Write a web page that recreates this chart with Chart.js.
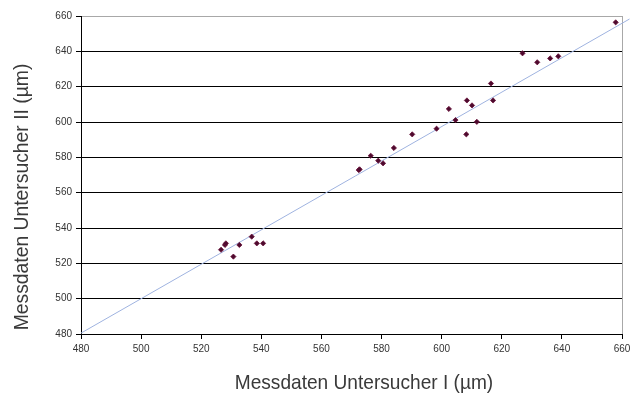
<!DOCTYPE html>
<html>
<head>
<meta charset="utf-8">
<script src="https://cdn.jsdelivr.net/npm/chart.js@4/dist/chart.umd.min.js"></script>
<style>
  html, body { margin: 0; padding: 0; background: #fff; }
  #wrap { width: 641px; height: 401px; position: relative; }
</style>
</head>
<body>
<div id="wrap"><canvas id="c" width="641" height="401"></canvas></div>
<script>
// Data
const xValues = [657.9, 626.9, 631.8, 636.1, 638.8, 572.4, 572.7, 576.4, 578.9, 580.5, 584.1, 590.2, 598.3, 604.6, 608.2, 611.7, 602.4, 608.4, 610.1, 616.4, 617.1, 526.6, 527.9, 528.2, 530.7, 532.7, 536.8, 538.5, 540.6];
const yValues = [656.4, 638.9, 633.8, 636.0, 637.2, 572.8, 573.2, 580.9, 578.1, 576.6, 585.3, 593.0, 596.2, 601.1, 593.0, 600.1, 607.4, 612.2, 609.4, 621.8, 612.2, 527.7, 530.4, 531.3, 523.8, 530.4, 535.1, 531.3, 531.3];
const trendX = [480, 662.5];
const trendY = [480.5, 658.3];
const tickValues = [480, 500, 520, 540, 560, 580, 600, 620, 640, 660];
const xTitle = 'Messdaten Untersucher I (µm)';
const yTitle = 'Messdaten Untersucher II (µm)';

const FONT = "'Liberation Sans', Arial, sans-serif";

const points = xValues.map((x, i) => ({ x: x, y: yValues[i] }));
const trend = trendX.map((x, i) => ({ x: x, y: trendY[i] }));

const titlePlugin = {
  id: 'axisTitles',
  afterDraw(chart) {
    const ctx = chart.ctx;
    ctx.save();
    ctx.fillStyle = '#3a3a3a';
    ctx.font = '21px ' + FONT;
    ctx.textAlign = 'center';
    ctx.textBaseline = 'middle';
    ctx.save();
    ctx.translate(364, 383);
    ctx.scale(0.91, 1);
    ctx.fillText(xTitle, 0, 0);
    ctx.restore();
    ctx.translate(22, 197);
    ctx.rotate(-Math.PI / 2);
    ctx.scale(0.92, 1);
    ctx.fillText(yTitle, 0, 0);
    ctx.restore();
  }
};

new Chart(document.getElementById('c'), {
  type: 'scatter',
  data: {
    datasets: [
      {
        label: 'Messwerte',
        data: points,
        pointStyle: 'rectRot',
        pointRadius: 2.6,
        pointBackgroundColor: '#4d0a2e',
        pointBorderColor: '#6a1038',
        pointBorderWidth: 0.8,
        showLine: false,
        order: 0
      },
      {
        label: 'Trend',
        type: 'line',
        data: trend,
        borderColor: '#9fb3e0',
        borderWidth: 1,
        pointRadius: 0,
        fill: false,
        clip: false,
        order: 1
      }
    ]
  },
  options: {
    responsive: false,
    animation: false,
    devicePixelRatio: 1,
    layout: { padding: { left: 0, top: 16, right: 19, bottom: 0 } },
    plugins: { legend: { display: false }, tooltip: { enabled: false } },
    scales: {
      x: {
        type: 'linear',
        min: 480, max: 660,
        afterBuildTicks: s => { s.ticks = tickValues.map(v => ({ value: v })); },
        afterFit: s => { s.height = 67; },
        ticks: { color: '#333', font: { family: FONT, size: 10 }, padding: 4, maxRotation: 0 },
        grid: {
          color: c => (c.tick && c.tick.value === 660) ? '#a8a8a8' : 'rgba(0,0,0,0)',
          tickColor: '#000',
          tickLength: 5,
          lineWidth: 1
        },
        border: { display: true, color: '#000', width: 1 }
      },
      y: {
        type: 'linear',
        min: 480, max: 660,
        afterBuildTicks: s => { s.ticks = tickValues.map(v => ({ value: v })); },
        afterFit: s => { s.width = 81; },
        ticks: { color: '#333', font: { family: FONT, size: 10 }, padding: 4 },
        grid: {
          color: c => (c.tick && c.tick.value === 660) ? '#a8a8a8' : '#000',
          tickColor: '#000',
          tickLength: 5,
          lineWidth: 1
        },
        border: { display: true, color: '#000', width: 1 }
      }
    }
  },
  plugins: [titlePlugin]
});
</script>
</body>
</html>
